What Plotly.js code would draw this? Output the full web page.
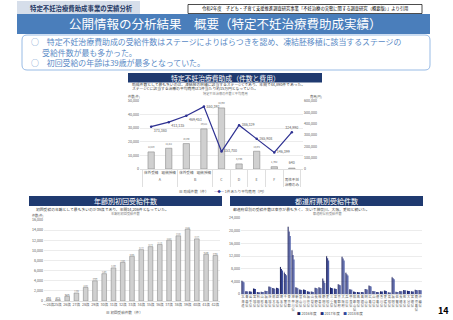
<!DOCTYPE html>
<html><head><meta charset="utf-8">
<script src="https://cdn.plot.ly/plotly-3.0.1.min.js"></script>
<style>html,body{margin:0;padding:0;background:#fff;}#chart{width:453px;height:320px;}</style>
</head><body><div id="chart"></div>
<script>
// ---- Top chart: stage counts and average cost ----
const stageGroup = ['A','A','B','B','C','D','E','F','男性不妊<br>治療のみ'];
const stageMethod = ['体外受精','顕微授精','体外受精','顕微授精',' ',' ',' ',' ',' '];
const grantCounts = [12559,15262,18690,29511,44890,3736,13072,1702,640];
const avgCosts = [373380,413135,469453,550392,153700,386329,265908,146399,324990];

// ---- Bottom-left: first-time grants by age ----
const ageLabels = ['～24歳','25歳','26歳','27歳','28歳','29歳','30歳','31歳','32歳','33歳','34歳','35歳','36歳','37歳','38歳','39歳','40歳','41歳','42歳'];
const firstCounts = [264,271,925,1582,2681,3989,5401,6538,7625,8835,10139,10742,11178,12004,12880,14206,12274,9230,8984];

// ---- Bottom-right: grants by prefecture ----
const prefectures = ['北海道','青森県','岩手県','宮城県','秋田県','山形県','福島県','茨城県','栃木県','群馬県','埼玉県','千葉県','東京都','神奈川県','新潟県','富山県','石川県','福井県','山梨県','長野県','岐阜県','静岡県','愛知県','三重県','滋賀県','京都府','大阪府','兵庫県','奈良県','和歌山県','鳥取県','島根県','岡山県','広島県','山口県','徳島県','香川県','愛媛県','高知県','福岡県','佐賀県','長崎県','熊本県','大分県','宮崎県','鹿児島県','沖縄県'];
const years = ['2016年度','2017年度','2018年度'];
const fy1 = [4191,900,850,1750,600,700,1050,2400,1900,2000,8524,6807,21218,13806,2100,1450,1400,850,750,2000,2150,4900,11938,2050,1750,3100,11788,6734,1500,750,600,650,1600,2700,950,650,850,1100,550,5263,700,950,1300,1050,850,1350,1300];
const fy2 = [3950,830,780,1630,560,650,970,2250,1780,1870,7900,6300,19700,12300,1950,1350,1310,790,700,1870,2010,4150,11300,1920,1640,2900,11200,6250,1400,700,560,610,1500,2540,890,610,800,1030,510,4950,650,890,1220,980,800,1260,1220];
const fy3 = [3700,780,730,1540,520,610,910,2120,1680,1760,7450,5900,18300,10900,1840,1270,1230,740,660,1760,1890,3500,10600,1810,1550,2750,10600,5850,1320,660,530,570,1410,2390,840,570,750,970,480,4650,610,840,1150,920,750,1190,1150];
const labeledPrefs = ['北海道','埼玉県','千葉県','東京都','神奈川県','愛知県','大阪府','兵庫県','福岡県'];

const F = '"Noto Sans CJK JP", "Noto Sans", sans-serif';
const W = 453, H = 320;
const px = x => x / W, py = y => 1 - y / H;
const tf = {family: F, size: 3.6, color: '#595959'};
const navy = '#1F3A70';
const fmt = v => v.toLocaleString('en-US');
const c1 = '#191E5A', c2 = '#232E7C', c3 = '#34479C';

const traces = [
  {type:'bar', x:[stageGroup, stageMethod], y:grantCounts, xaxis:'x', yaxis:'y', width:0.36,
   marker:{color:'#D0D0D0', line:{color:'#8C8C8C', width:0.6}},
   text:grantCounts.map(fmt), textposition:'outside', cliponaxis:false,
   textfont:{family:F, size:3.6, color:'#595959'}, name:'助成件数（件）', hoverinfo:'skip'},
  {type:'scatter', mode:'lines+markers+text', x:[stageGroup, stageMethod], y:avgCosts, xaxis:'x', yaxis:'y2',
   line:{color:'#2E3192', width:1.2}, marker:{color:'#2E3192', size:2.5},
   text:avgCosts.map(fmt), cliponaxis:false,
   textposition:['bottom right','bottom right','bottom right','middle right','middle right','middle right','middle right','middle right','top center'],
   textfont:{family:F, size:3.6, color:'#595959'}, name:'1件あたり平均費用（円）', hoverinfo:'skip'},
  {type:'bar', x:ageLabels, y:firstCounts, xaxis:'x2', yaxis:'y3', width:0.5,
   marker:{color:'#D0D0D0', line:{color:'#8C8C8C', width:0.6}},
   text:firstCounts.map(fmt), textposition:'outside', cliponaxis:false,
   textfont:{family:F, size:3.5, color:'#595959'}, name:'初回受給件数（件）', hoverinfo:'skip'},
  {type:'bar', x:prefectures, y:fy1, xaxis:'x3', yaxis:'y4', name:years[0], marker:{color:c1},
   text:fy1.map((v,i)=>labeledPrefs.includes(prefectures[i]) ? fmt(v) : ''), textposition:'outside', cliponaxis:false,
   textfont:{family:F, size:3.5, color:'#595959'}, hoverinfo:'skip'},
  {type:'bar', x:prefectures, y:fy2, xaxis:'x3', yaxis:'y4', name:years[1], marker:{color:c2}, hoverinfo:'skip'},
  {type:'bar', x:prefectures, y:fy3, xaxis:'x3', yaxis:'y4', name:years[2], marker:{color:c3}, hoverinfo:'skip'}
];

function ann(x, y, text, size, color, o) {
  return Object.assign({xref:'paper', yref:'paper', x:px(x), y:py(y), text:text, showarrow:false,
    xanchor:'center', yanchor:'middle', font:{family:F, size:size, color:color}, borderpad:0}, o || {});
}
function rect(x0, y0, x1, y1, fill, line, lw) {
  return {type:'rect', xref:'paper', yref:'paper', x0:px(x0), x1:px(x1), y0:py(y1), y1:py(y0),
    fillcolor:fill, line:{color:line || fill, width:lw || 0}, layer:'below'};
}
function rrect(x0, y0, x1, y1, r, color, lw) {
  const X = px, Y = py;
  const p = `M${X(x0+r)},${Y(y0)} L${X(x1-r)},${Y(y0)} Q${X(x1)},${Y(y0)} ${X(x1)},${Y(y0+r)} L${X(x1)},${Y(y1-r)} Q${X(x1)},${Y(y1)} ${X(x1-r)},${Y(y1)} L${X(x0+r)},${Y(y1)} Q${X(x0)},${Y(y1)} ${X(x0)},${Y(y1-r)} L${X(x0)},${Y(y0+r)} Q${X(x0)},${Y(y0)} ${X(x0+r)},${Y(y0)} Z`;
  return {type:'path', xref:'paper', yref:'paper', path:p, line:{color:color, width:lw}, fillcolor:'rgba(0,0,0,0)', layer:'below'};
}

const shapes = [
  rect(17, 1, 140, 14, '#D6DEEA'),
  rect(188, 4.5, 422, 13.5, '#FFFFFF', '#000000', 0.7),
  rect(17, 14, 430, 34, '#4A7EBB'),
  rrect(22, 35, 430, 70, 5, '#8DB3E2', 0.9),
  rect(128, 73, 322, 82.5, navy),
  rect(29, 196, 222, 206, navy),
  rect(230, 196, 423, 206, navy)
];

const annotations = [
  ann(81, 8, '<b>特定不妊治療費助成事業の実績分析</b>', 6.4, '#1F3864'),
  ann(305, 9, '令和2年度　子ども・子育て支援推進調査研究事業「不妊治療の実態に関する調査研究（概要版）」より引用', 4.3, '#000000'),
  ann(225, 24, '公開情報の分析結果　概要（特定不妊治療費助成実績）', 12.5, '#FFFFFF'),
  ann(30, 41.8, '○　特定不妊治療費助成の受給件数はステージによりばらつきを認め、凍結胚移植に該当するステージの', 7.9, '#5A8AC6', {xanchor:'left'}),
  ann(41, 52.3, '受給件数が最も多かった。', 7.9, '#5A8AC6', {xanchor:'left'}),
  ann(30, 62.8, '○　初回受給の年齢は39歳が最多となっていた。', 7.9, '#5A8AC6', {xanchor:'left'}),
  // top panel
  ann(225, 77.8, '特定不妊治療費助成（件数と費用）', 6.8, '#FFFFFF'),
  ann(131, 84.8, '助成件数として最も多いのは、凍結胚の移植に該当するステージCであり、年間で44,890件であった。', 3.8, '#404040', {xanchor:'left'}),
  ann(131, 88.8, 'ステージCに該当する治療の平均費用は1件当たり約15万円となっていた。', 3.8, '#404040', {xanchor:'left'}),
  ann(225, 93.6, '特定不妊治療の件数と平均費用', 3.2, '#7F7F7F'),
  ann(134, 96.8, '件数(件)', 3.2, '#595959'),
  ann(316, 96.8, '費用(円)', 3.2, '#595959'),
  ann(222, 191.5, '<span style="color:#BFBFBF">■</span> 助成件数（件）　　<span style="color:#2E3192">—◆—</span> 1件あたり平均費用（円）', 3.6, '#595959'),
  // bottom-left panel
  ann(125.5, 201, '年齢別初回受給件数', 7, '#FFFFFF'),
  ann(35, 209.6, '初回受給の年齢として最も多いのが39歳であり、年間14,206件となっていた。', 3.8, '#404040', {xanchor:'left'}),
  ann(125, 213.6, '年齢別初回受給件数', 3.2, '#7F7F7F'),
  ann(37, 215.8, '件数(件)', 3.1, '#595959'),
  ann(124, 312, '<span style="color:#BFBFBF">■</span> 初回受給件数（件）', 3.6, '#595959'),
  // bottom-right panel
  ann(326.5, 201, '都道府県別受給件数', 7, '#FFFFFF'),
  ann(232, 209.4, '都道府県別の受給件数は東京が最も多く、次いで神奈川、大阪、愛知と続いた。', 3.8, '#404040', {xanchor:'left'}),
  ann(327, 213.6, '都道府県別受給件数', 3.2, '#7F7F7F'),
  ann(330, 313, '<span style="color:' + c1 + '">■</span> ' + years[0] + '　<span style="color:' + c2 + '">■</span> ' + years[1] + '　<span style="color:' + c3 + '">■</span> ' + years[2], 3.6, '#595959'),
  ann(443, 310, '<b>14</b>', 9, '#000000')
];

const yBase = {tickfont:tf, gridcolor:'#D9D9D9', gridwidth:0.5, zeroline:false, tickformat:',', ticks:'', fixedrange:true};
const layout = {
  width:W, height:H, margin:{l:0, r:0, t:0, b:0}, paper_bgcolor:'#FFFFFF', plot_bgcolor:'rgba(0,0,0,0)',
  font:{family:F}, showlegend:false, barmode:'group', bargap:0.22, bargroupgap:0,
  xaxis:{domain:[px(140), px(303)], anchor:'y', type:'multicategory', tickfont:tf, showgrid:false,
         showline:true, linecolor:'#BFBFBF', linewidth:0.5, ticks:'', showdividers:true, dividercolor:'#BFBFBF', dividerwidth:0.5, tickangle:0},
  yaxis:Object.assign({domain:[py(169), py(101)], anchor:'x', range:[0, 50000], dtick:10000}, yBase),
  yaxis2:Object.assign({}, yBase, {overlaying:'y', side:'right', anchor:'x', range:[0, 600000], dtick:100000, showgrid:false}),
  xaxis2:{domain:[px(44), px(220)], anchor:'y3', tickfont:tf, tickmode:'array', tickvals:ageLabels, ticktext:ageLabels,
          showline:true, linecolor:'#BFBFBF', linewidth:0.5, ticks:'', tickangle:0},
  yaxis3:Object.assign({domain:[py(301), py(220)], anchor:'x2', range:[0, 16000], dtick:2000}, yBase),
  xaxis3:{domain:[px(241), px(422)], anchor:'y4', tickfont:{family:F, size:3.2, color:'#595959'}, tickmode:'array',
          tickvals:prefectures, ticktext:prefectures.map(p => p.split('').join('<br>')),
          showline:true, linecolor:'#BFBFBF', linewidth:0.5, ticks:'', tickangle:0},
  yaxis4:Object.assign({domain:[py(294), py(218)], anchor:'x3', range:[0, 24000], dtick:4000}, yBase),
  shapes:shapes, annotations:annotations
};

Plotly.newPlot('chart', traces, layout, {staticPlot:true, displayModeBar:false});
</script>
</body></html>
